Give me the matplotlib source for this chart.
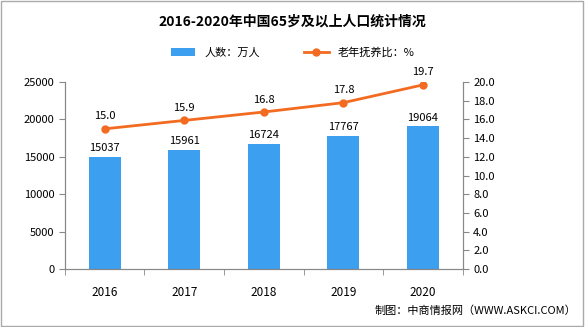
import numpy as np
import matplotlib
matplotlib.use('Agg')
import matplotlib.pyplot as plt
from matplotlib.patches import Rectangle

plt.rcParams['font.family'] = ['Noto Sans CJK SC', 'DejaVu Sans']

years = ['2016', '2017', '2018', '2019', '2020']
population = [15037, 15961, 16724, 17767, 19064]
ratio = [15.0, 15.9, 16.8, 17.8, 19.7]

bar_color = '#3d9ff0'
line_color = '#f26b21'

fig = plt.figure(figsize=(5.85, 3.27), dpi=100)
ax = fig.add_axes([0.111, 0.177, 0.68, 0.572])
ax2 = ax.twinx()

x = np.arange(len(years))
ax.bar(x, population, width=0.4, color=bar_color, label='人数：万人', zorder=2)
for xi, v in zip(x, population):
    ax.text(xi, v + 500, str(v), ha='center', va='bottom', fontsize=8)

ax2.plot(x, ratio, color=line_color, lw=2, marker='o', ms=5, label='老年抚养比：%')
for xi, v in zip(x, ratio):
    ax2.text(xi, v + 0.8, f'{v:.1f}', ha='center', va='bottom', fontsize=8)

ax.set_xlim(-0.5, 4.5)
ax.set_ylim(0, 25000)
ax.set_yticks(range(0, 25001, 5000))
ax2.set_ylim(0, 20)
ax2.set_yticks(np.arange(0, 20.1, 2))
ax2.set_yticklabels([f'{t:.1f}' for t in np.arange(0, 20.1, 2)])

ax.set_xticks(x)
ax.set_xticklabels(years)
ax.set_xticks(np.arange(-0.5, 4.6, 1), minor=True)
ax.tick_params(axis='x', which='major', length=0, pad=12, labelsize=8.5)
ax.tick_params(axis='x', which='minor', length=4, color='#888888')
ax.tick_params(axis='y', labelsize=8, length=4, color='#888888')
ax2.tick_params(axis='y', labelsize=8, length=4, color='#888888')

for a in (ax, ax2):
    a.spines['top'].set_visible(False)
    for s in ('left', 'right', 'bottom'):
        a.spines[s].set_color('#888888')

fig.text(0.5, 0.935, '2016-2020年中国65岁及以上人口统计情况', ha='center', va='center',
         fontsize=10, fontweight='bold')

h1, l1 = ax.get_legend_handles_labels()
h2, l2 = ax2.get_legend_handles_labels()
fig.legend(h1 + h2, l1 + l2, loc='center', bbox_to_anchor=(0.5, 0.84), ncol=2,
           frameon=False, fontsize=8, columnspacing=4, handlelength=2.2)

fig.text(0.985, 0.05, '制图：中商情报网（WWW.ASKCI.COM）', ha='right', va='center', fontsize=8)

fig.patches.append(Rectangle((0.002, 0.003), 0.995, 0.994, transform=fig.transFigure,
                             fill=False, edgecolor='#aaaaaa', lw=1))

fig.savefig('out.png', dpi=100)
